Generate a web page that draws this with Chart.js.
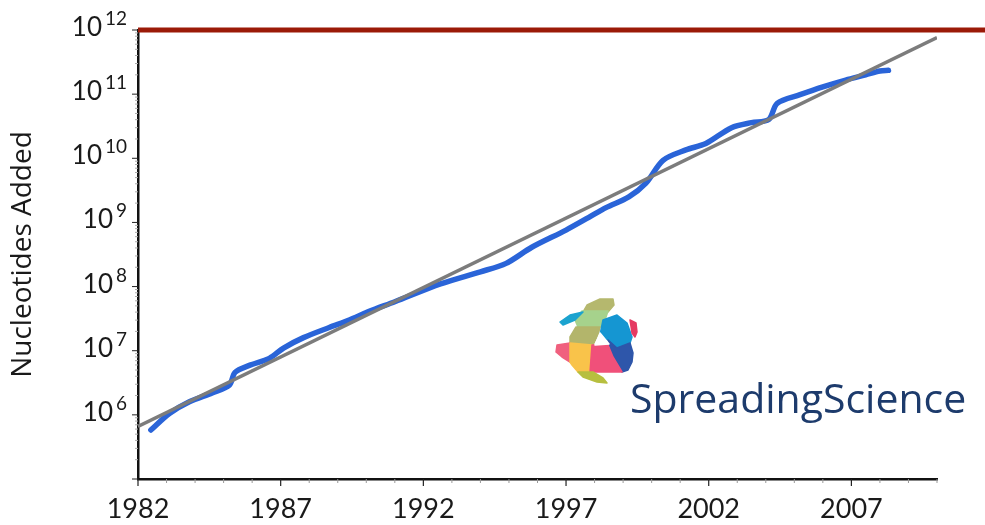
<!DOCTYPE html>
<html>
<head>
<meta charset="utf-8">
<script src="https://cdn.jsdelivr.net/npm/chart.js@4.4.1/dist/chart.umd.min.js"></script>
<style>
  html, body { margin: 0; padding: 0; background: #fff; }
  #growthChart { display: block; }
</style>
</head>
<body>
<canvas id="growthChart" width="985" height="525"></canvas>
<script>
// measured GenBank growth (blue)
const blueYears = [1982.45, 1983.1, 1983.8, 1984.6, 1985.2, 1985.4, 1985.9, 1986.6, 1987.1, 1987.8,
  1988.7, 1989.4, 1990.1, 1991.0, 1992.6, 1994.0, 1994.9, 1995.8, 1997.0, 1997.8,
  1998.4, 1999.2, 1999.8, 2000.4, 2001.2, 2001.9, 2002.8, 2003.5, 2004.1, 2004.4,
  2005.2, 2006.0, 2006.8, 2007.5, 2008.0, 2008.3];
const blueValues = [5.8e5, 1.05e6, 1.6e6, 2.2e6, 2.9e6, 4.6e6, 5.9e6, 7.6e6, 1.1e7, 1.6e7,
  2.3e7, 3.0e7, 4.1e7, 5.8e7, 1.1e8, 1.7e8, 2.3e8, 4.1e8, 7.6e8, 1.2e9,
  1.7e9, 2.5e9, 4.1e9, 9.3e9, 1.35e10, 1.7e10, 3.0e10, 3.6e10, 4.0e10, 7.2e10,
  9.8e10, 1.3e11, 1.66e11, 2.0e11, 2.3e11, 2.35e11];

// exponential trend (gray)
const fitYears = [1982, 2010];
const fitValues = [6.6e5, 7.6e11];

// 10^12 limit line (red)
const limitYears = [1982, 2011.7];
const limitValues = [1e12, 1e12];

const xLabelYears = [1982, 1987, 1992, 1997, 2002, 2007];
const yLabelExponents = [6, 7, 8, 9, 10, 11, 12];

const FONT = "Lato, 'Open Sans', sans-serif";
const WIDE_FONT = "'Open Sans', Lato, sans-serif";

const toPoints = (xs, ys) => xs.map((v, i) => ({ x: v, y: ys[i] }));

// logo patches, drawn as flat polygons
const logoPatches = [
  { c: '#b5b86e', p: [[587, 305], [600, 299], [613, 299], [614, 305], [608, 312], [593, 312], [583, 312]] },
  { c: '#a6d28c', p: [[582, 311], [608, 311], [605, 320], [600, 327], [578, 327], [575, 320]] },
  { c: '#b3b56b', p: [[576, 327], [600, 327], [598, 335], [593, 345], [570, 345], [570, 337]] },
  { c: '#1ba3cf', p: [[560, 322], [570, 315], [583, 312], [575, 320], [563, 325]] },
  { c: '#1596d2', p: [[603, 320], [617, 315], [627, 323], [632, 337], [630, 343], [617, 348], [608, 340], [600, 335]] },
  { c: '#2e56aa', p: [[608, 340], [617, 348], [630, 343], [633, 353], [632, 362], [628, 370], [622, 372], [617, 367], [612, 355]] },
  { c: '#e53a62', p: [[630, 320], [636, 323], [637, 332], [635, 337], [632, 333]] },
  { c: '#f0607e', p: [[557, 345], [570, 343], [570, 362], [562, 357], [556, 352]] },
  { c: '#f9c34a', p: [[570, 343], [592, 345], [590, 372], [578, 372], [572, 365], [570, 362]] },
  { c: '#f0507a', p: [[592, 345], [608, 345], [613, 357], [622, 372], [605, 372], [590, 372]] },
  { c: '#b7bf3f', p: [[578, 372], [593, 372], [603, 378], [607, 383], [597, 382], [583, 377]] },
  { c: '#ffffff', p: [[595, 345], [600, 333], [609, 344]] },
];

const drawLogo = (ctx) => {
  ctx.save();
  ctx.lineJoin = 'round';
  ctx.lineWidth = 1.5;
  logoPatches.forEach(({ c, p }) => {
    ctx.beginPath();
    p.forEach(([px, py], i) => (i ? ctx.lineTo(px, py) : ctx.moveTo(px, py)));
    ctx.closePath();
    ctx.fillStyle = c;
    ctx.strokeStyle = c;
    ctx.fill();
    ctx.stroke();
  });
  ctx.font = `41px ${WIDE_FONT}`;
  ctx.fillStyle = '#1d3b6c';
  ctx.textAlign = 'left';
  ctx.textBaseline = 'alphabetic';
  ctx.fillText('SpreadingScience', 630, 413);
  ctx.restore();
};

const axisDecor = {
  id: 'axisDecor',
  afterDraw(chart) {
    const { ctx, scales: { x, y } } = chart;
    const axisY = y.bottom;
    const axisX = x.left;
    ctx.save();
    // x ticks
    for (let yr = x.min; yr <= x.max; yr++) {
      const px = x.getPixelForValue(yr);
      const major = xLabelYears.includes(yr);
      ctx.strokeStyle = major ? '#222' : '#999';
      ctx.lineWidth = major ? 1.2 : 1;
      ctx.beginPath();
      ctx.moveTo(px, axisY);
      ctx.lineTo(px, axisY + (major ? 7 : 4));
      ctx.stroke();
    }
    // y ticks
    const eMin = Math.round(Math.log10(y.min));
    const eMax = Math.round(Math.log10(y.max));
    for (let e = eMin; e <= eMax; e++) {
      for (let m = 1; m <= 9; m++) {
        const v = m * Math.pow(10, e);
        if (v > y.max) break;
        const py = y.getPixelForValue(v);
        ctx.strokeStyle = m === 1 ? '#222' : '#aaa';
        ctx.lineWidth = 1;
        ctx.beginPath();
        ctx.moveTo(axisX, py);
        ctx.lineTo(axisX - (m === 1 ? 6 : 3), py);
        ctx.stroke();
      }
    }
    // y labels: 10 with superscript exponent
    ctx.fillStyle = '#1a1a1a';
    ctx.textBaseline = 'alphabetic';
    ctx.textAlign = 'right';
    yLabelExponents.forEach((e) => {
      const py = y.getPixelForValue(Math.pow(10, e));
      const right = axisX - 11;
      ctx.font = `19px ${FONT}`;
      const expStr = String(e);
      const expW = ctx.measureText(expStr).width;
      ctx.fillText(expStr, right, py - 5);
      ctx.font = `26px ${FONT}`;
      ctx.fillText('10', right - expW - 3, py + 6);
    });
    ctx.restore();
    drawLogo(ctx);
  },
};

new Chart(document.getElementById('growthChart'), {
  type: 'line',
  data: {
    datasets: [
      {
        label: 'Limit',
        data: toPoints(limitYears, limitValues),
        borderColor: '#9b1a08',
        borderWidth: 5,
        pointRadius: 0,
        clip: false,
      },
      {
        label: 'Trend',
        data: toPoints(fitYears, fitValues),
        borderColor: '#7c7c7c',
        borderWidth: 3.5,
        pointRadius: 0,
      },
      {
        label: 'Nucleotides',
        data: toPoints(blueYears, blueValues),
        borderColor: '#2a64d8',
        borderWidth: 5.5,
        pointRadius: 0,
        tension: 0.3,
        borderCapStyle: 'round',
      },
    ],
  },
  options: {
    responsive: false,
    animation: false,
    devicePixelRatio: 1,
    layout: { padding: { top: 30, right: 48, left: 0, bottom: 0 } },
    plugins: { legend: { display: false }, tooltip: { enabled: false } },
    scales: {
      x: {
        type: 'linear',
        min: 1982,
        max: 2010,
        afterFit: (scale) => { scale.height = 46; },
        border: { display: true, color: '#111', width: 2.5 },
        grid: { display: true, drawOnChartArea: false, drawTicks: false },
        ticks: {
          stepSize: 1,
          autoSkip: false,
          maxRotation: 0,
          padding: 14,
          color: '#1a1a1a',
          font: { family: FONT, size: 27 },
          callback: (v) => (xLabelYears.includes(v) ? String(v) : ''),
        },
      },
      y: {
        type: 'logarithmic',
        min: 1e5,
        max: 1e12,
        afterFit: (scale) => { scale.width = 138; },
        border: { display: true, color: '#111', width: 2.5 },
        grid: { display: true, drawOnChartArea: false, drawTicks: false },
        ticks: { display: false },
        title: {
          display: true,
          text: 'Nucleotides Added',
          color: '#1a1a1a',
          font: { family: WIDE_FONT, size: 28 },
          padding: { top: 6, bottom: 0 },
        },
      },
    },
  },
  plugins: [axisDecor],
});
</script>
</body>
</html>
